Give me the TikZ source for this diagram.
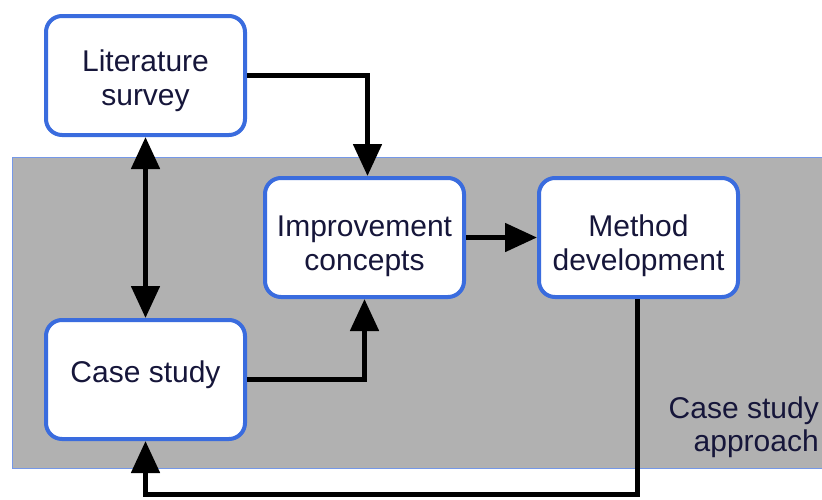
\documentclass[tikz,border=0pt]{standalone}
\usepackage{fontspec}
\setmainfont{Liberation Sans}
\usetikzlibrary{arrows.meta,calc}
\definecolor{boxblue}{RGB}{58,108,222}
\definecolor{navy}{RGB}{22,22,58}
\definecolor{panelgray}{RGB}{177,177,177}
\newcommand{\shifttxt}[2]{\raisebox{#1}[\height][\depth]{\begin{tabular}{@{}c@{}}#2\end{tabular}}}
\tikzset{
  stepbox/.style={draw=boxblue, line width=4pt, fill=white, rounded corners=16pt,
    minimum width=199pt, minimum height=119pt, align=center, text=navy,
    font=\fontsize{30}{34}\selectfont, inner sep=0pt},
  conn/.style={line width=5pt, draw=black, line join=miter,
    -{Triangle[length=32pt,width=28pt]}},
  dconn/.style={line width=5pt, draw=black,
    {Triangle[length=32pt,width=28pt]}-{Triangle[length=32pt,width=28pt]}},
}
\begin{document}
\begin{tikzpicture}[x=1pt,y=-1pt]
\useasboundingbox (0,0) rectangle (822,499);
\fill[panelgray, draw=boxblue!70, line width=0.8pt] (12,157) rectangle (830,468);
\node[stepbox] (lit) at (145.5,75.5) {\shifttxt{-6pt}{Literature\\survey}};
\node[stepbox] (imp) at (364.5,237.5) {\shifttxt{-9pt}{Improvement\\concepts}};
\node[stepbox] (meth) at (638.5,237.5) {\shifttxt{-9pt}{Method\\development}};
\node[stepbox] (case) at (145.5,379.5) {\shifttxt{4pt}{Case study}};
\node[anchor=east, align=right, text=navy, font=\fontsize{30}{33}\selectfont, inner sep=0pt] (label) at (819,427) {Case study\\approach};
\coordinate (bot) at (0,494);
\draw[conn] (lit.east) -| ([xshift=3pt]imp.north);
\draw[dconn] (lit.south) -- (case.north);
\draw[conn] (case.east) -| (imp.south);
\draw[conn] (imp.east) -- (meth.east -| meth.west);
\draw[conn] ([xshift=-1pt]meth.south) -- ([xshift=-1pt]meth.south |- bot) -| (case.south);
\end{tikzpicture}
\end{document}
